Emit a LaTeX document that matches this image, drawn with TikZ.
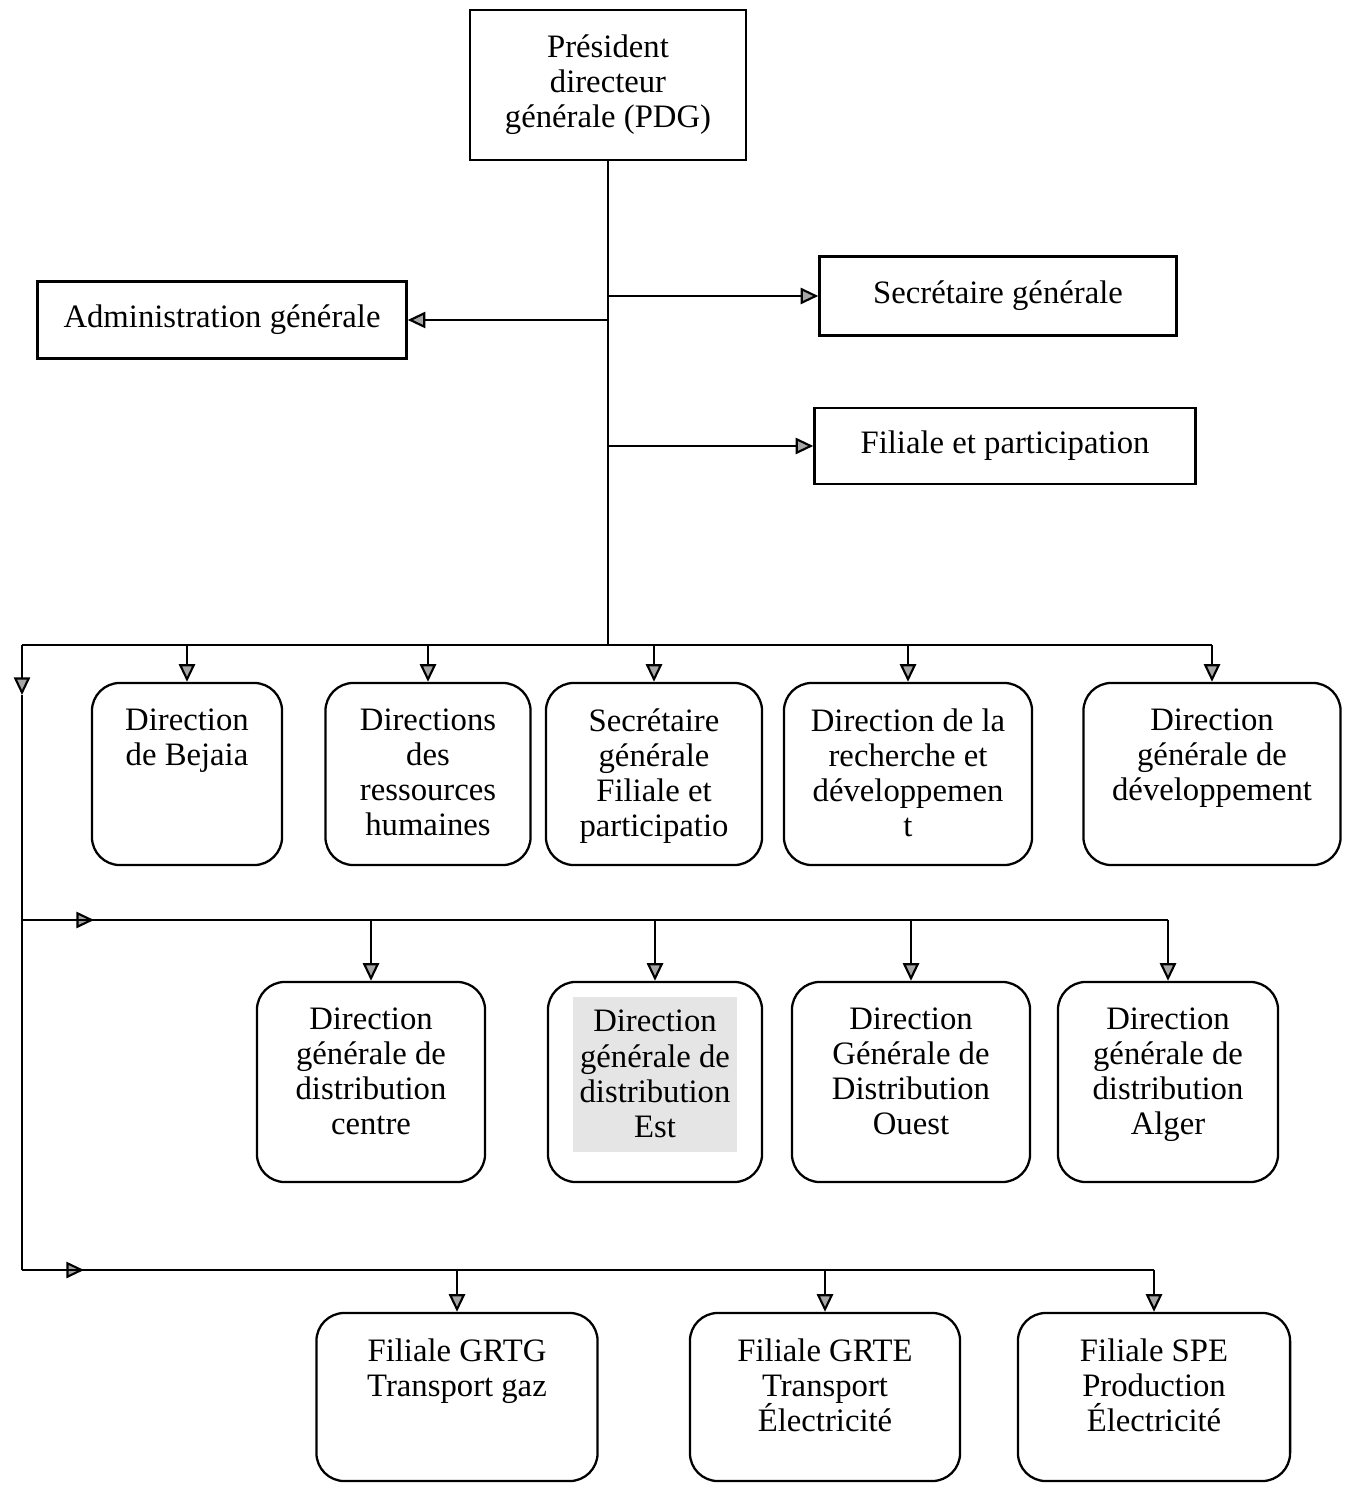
\documentclass[tikz,border=0pt]{standalone}
\usepackage{fontspec}
\setmainfont{Liberation Serif}
\usetikzlibrary{arrows.meta,positioning}
\tikzset{
  box/.style={draw, line width=0.65pt, align=center, inner sep=0pt},
  rbox/.style={draw, line width=0.65pt, rounded corners=0.28cm, inner sep=0pt},
  txt/.style={align=center, inner sep=0pt, font=\fontsize{9.3}{10}\selectfont},
  arr/.style={line width=0.6pt, -{Triangle[length=5pt,width=4.6pt,fill=gray!70]}},
  ln/.style={line width=0.6pt}
}
\begin{document}
\begin{tikzpicture}[x=0.01cm,y=-0.01cm]
\useasboundingbox (0,0) rectangle (1351,1495);

% top of the chart
\node[box, txt, minimum width=2.76cm, minimum height=1.5cm] (pdg) at (608,85) {Président\\directeur\\générale (PDG)};
\node[box, txt, minimum width=3.69cm, minimum height=0.77cm] (admin) at (222,320) {Administration générale};
\node[box, txt, minimum width=3.57cm, minimum height=0.79cm] (secgen) at (998,296) {Secrétaire générale};
\node[box, txt, minimum width=3.81cm, minimum height=0.76cm] (filpart) at (1005,446) {Filiale et participation};

% first row
\node[rbox, minimum width=1.9cm, minimum height=1.82cm] (bejaia) at (187,774) {};
\node[txt, below=0.26cm of bejaia.north] (bejaiat) {Direction\\de Bejaia};
\node[rbox, minimum width=2.05cm, minimum height=1.82cm] (rh) at (428,774) {};
\node[txt, below=0.26cm of rh.north] (rht) {Directions\\des\\ressources\\humaines};
\node[rbox, minimum width=2.16cm, minimum height=1.82cm] (secfil) at (654,774) {};
\node[txt, below=0.26cm of secfil.north] (secfilt) {Secrétaire\\générale\\Filiale et\\participatio};
\node[rbox, minimum width=2.48cm, minimum height=1.82cm] (rd) at (908,774) {};
\node[txt, below=0.26cm of rd.north] (rdt) {Direction de la\\recherche et\\développemen\\t};
\node[rbox, minimum width=2.57cm, minimum height=1.82cm] (dgdev) at (1212,774) {};
\node[txt, below=0.26cm of dgdev.north] (dgdevt) {Direction\\générale de\\développement};

% second row
\node[rbox, minimum width=2.28cm, minimum height=2.0cm] (dgcentre) at (371,1082) {};
\node[txt, below=0.26cm of dgcentre.north] (dgcentret) {Direction\\générale de\\distribution\\centre};
\node[rbox, minimum width=2.14cm, minimum height=2.0cm] (dgest) at (655,1082) {};
\node[txt, fill=gray!20, minimum width=1.64cm, minimum height=1.55cm, below=0.15cm of dgest.north] (dgestt) {Direction\\générale de\\distribution\\Est};
\node[rbox, minimum width=2.38cm, minimum height=2.0cm] (dgouest) at (911,1082) {};
\node[txt, below=0.26cm of dgouest.north] (dgouestt) {Direction\\Générale de\\Distribution\\Ouest};
\node[rbox, minimum width=2.2cm, minimum height=2.0cm] (dgalger) at (1168,1082) {};
\node[txt, below=0.26cm of dgalger.north] (dgalgert) {Direction\\générale de\\distribution\\Alger};

% third row
\node[rbox, minimum width=2.81cm, minimum height=1.68cm] (grtg) at (457,1397) {};
\node[txt, below=0.26cm of grtg.north] (grtgt) {Filiale GRTG\\Transport gaz};
\node[rbox, minimum width=2.7cm, minimum height=1.68cm] (grte) at (825,1397) {};
\node[txt, below=0.26cm of grte.north] (grtet) {Filiale GRTE\\Transport\\Électricité};
\node[rbox, minimum width=2.72cm, minimum height=1.68cm] (spe) at (1154,1397) {};
\node[txt, below=0.26cm of spe.north] (spet) {Filiale SPE\\Production\\Électricité};

% buses
\coordinate (lt) at (22,645);
\coordinate (b2) at (22,920);
\coordinate (b3) at (22,1270);
\coordinate (ldown) at (22,695);

\draw[ln] (pdg.south) -- (pdg.south |- lt);
\draw[arr] (pdg.south |- secgen.west) -- (secgen.west);
\draw[arr] (pdg.south |- admin.east) -- (admin.east);
\draw[arr] (pdg.south |- filpart.west) -- (filpart.west);

\draw[ln] (lt) -- (dgdev.north |- lt);
\draw[arr] (lt) -- (ldown);
\draw[ln] (ldown) -- (b3);
\draw[arr] (b2) -- ++(72,0);
\draw[ln] (b2) -- (dgalger.north |- b2);
\draw[arr] (b3) -- ++(62,0);
\draw[ln] (b3) -- (spe.north |- b3);

% drops
\draw[arr] (bejaia.north |- lt) -- (bejaia.north);
\draw[arr] (rh.north |- lt) -- (rh.north);
\draw[arr] (secfil.north |- lt) -- (secfil.north);
\draw[arr] (rd.north |- lt) -- (rd.north);
\draw[arr] (dgdev.north |- lt) -- (dgdev.north);
\draw[arr] (dgcentre.north |- b2) -- (dgcentre.north);
\draw[arr] (dgest.north |- b2) -- (dgest.north);
\draw[arr] (dgouest.north |- b2) -- (dgouest.north);
\draw[arr] (dgalger.north |- b2) -- (dgalger.north);
\draw[arr] (grtg.north |- b3) -- (grtg.north);
\draw[arr] (grte.north |- b3) -- (grte.north);
\draw[arr] (spe.north |- b3) -- (spe.north);
\end{tikzpicture}
\end{document}
